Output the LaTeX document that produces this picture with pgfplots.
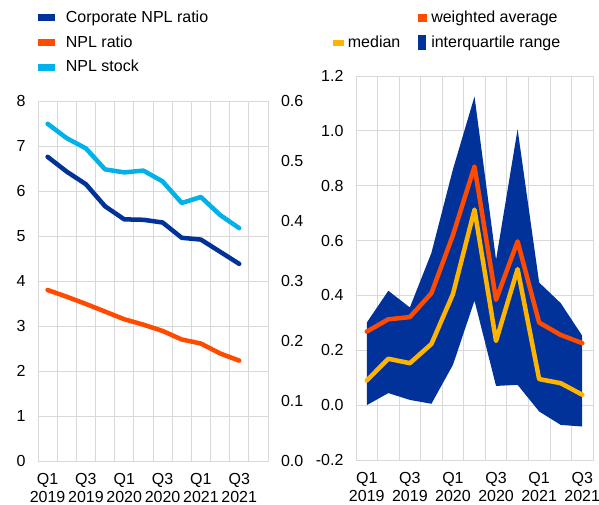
\documentclass[border=0pt]{standalone}
\usepackage{fontspec}
\setmainfont{Liberation Sans}
\usepackage{pgfplots}
\usepackage{pgfplotstable}
\pgfplotsset{compat=1.18}

\definecolor{ecbblue}{HTML}{003299}
\definecolor{ecborange}{HTML}{FF4B00}
\definecolor{ecblight}{HTML}{00B1EA}
\definecolor{ecbyellow}{HTML}{FFB400}
\definecolor{gridgray}{HTML}{D9D9D9}

% left panel: NPL ratios (lhs, %) and NPL stock (rhs, EUR tn)
\pgfplotstableread{
i  corp  ratio  stock
0  6.76  3.80   0.562
1  6.43  3.65   0.538
2  6.15  3.49   0.521
3  5.66  3.32   0.486
4  5.37  3.15   0.481
5  5.36  3.03   0.484
6  5.30  2.89   0.466
7  4.96  2.70   0.430
8  4.92  2.61   0.440
9  4.65  2.39   0.410
10 4.38  2.23   0.388
}\leftdata

% right panel: weighted average and median
\pgfplotstableread{
i  wavg   med
0  0.268  0.090
1  0.313  0.169
2  0.321  0.153
3  0.408  0.223
4  0.620  0.405
5  0.870  0.713
6  0.384  0.234
7  0.597  0.496
8  0.301  0.095
9  0.256  0.080
10 0.226  0.038
}\rightdata

% interquartile range as a closed outline: 25th pct forward, 75th pct back
\pgfplotstableread{
i  q
0  0.000
1  0.044
2  0.019
3  0.005
4  0.147
5  0.381
6  0.070
7  0.074
8  -0.023
9  -0.072
10 -0.078
10 0.253
9  0.372
8  0.447
7  1.006
6  0.530
5  1.125
4  0.860
3  0.555
2  0.356
1  0.417
0  0.301
}\iqrdata

\pgfplotsset{
  ecbbase/.style={
    scale only axis,
    anchor=south west,
    font=\fontsize{16}{18}\selectfont,
    /pgf/number format/assume math mode=true,
    axis line style={gridgray, line width=0.8pt},
    major tick length=0pt, minor tick length=0pt,
    grid style={gridgray, line width=0.8pt},
    ymajorgrids, xminorgrids,
    xtick={0,2,4,6,8,10},
    xticklabels={{Q1\\2019},{Q3\\2019},{Q1\\2020},{Q3\\2020},{Q1\\2021},{Q3\\2021}},
    xticklabel style={align=center, yshift=-8.5pt},
    yticklabel style={xshift=-9pt},
    legend cell align=left,
    legend style={draw=none, fill=none, font=\fontsize{16}{18}\selectfont,
      inner sep=0pt, outer sep=0pt,
      nodes={inner sep=0pt}},
  },
  swatch/.style n args={3}{legend image code/.code={
    \fill[#1] (0pt,-#3) rectangle (#2,#3);}},
}

\begin{document}
\begin{tikzpicture}
\useasboundingbox (0pt,0pt) rectangle (599pt,505pt);

\begin{axis}[ecbbase,
    at={(38pt,44pt)}, width=230pt, height=360pt,
    xmin=-0.5, xmax=11.5, ymin=0, ymax=8,
    ytick={0,1,2,3,4,5,6,7,8},
    minor xtick={-0.5,0.5,...,11.5},
    legend style={at={(axis description cs:0,1)}, anchor=north west, yshift=90pt,
      row sep=11.5pt,
      /tikz/every odd column/.append style={column sep=12pt}}]
\addlegendimage{swatch={ecbblue}{15.5pt}{3pt}}
\addlegendentry{Corporate NPL ratio}
\addlegendimage{swatch={ecborange}{15.5pt}{3pt}}
\addlegendentry{NPL ratio}
\addlegendimage{swatch={ecblight}{15.5pt}{3pt}}
\addlegendentry{NPL stock}
\addplot[ecbblue, line width=4.5pt, line join=round, line cap=round, forget plot] table[x=i, y=corp] {\leftdata};
\addplot[ecborange, line width=4.5pt, line join=round, line cap=round, forget plot] table[x=i, y=ratio] {\leftdata};
\end{axis}

\begin{axis}[ecbbase,
    at={(38pt,44pt)}, width=230pt, height=360pt,
    xmin=-0.5, xmax=11.5, ymin=0, ymax=0.6,
    ymajorgrids=false, xminorgrids=false,
    axis y line*=right, hide x axis,
    ytick={0,0.1,0.2,0.3,0.4,0.5,0.6},
    yticklabel style={xshift=18.5pt, /pgf/number format/.cd, fixed, fixed zerofill, precision=1}]
\addplot[ecblight, line width=4.5pt, line join=round, line cap=round] table[x=i, y=stock] {\leftdata};
\end{axis}

\begin{axis}[ecbbase,
    at={(356pt,45pt)}, width=237pt, height=384pt,
    xmin=-0.5, xmax=10.5, ymin=-0.2, ymax=1.2,
    ytick={-0.2,0,0.2,0.4,0.6,0.8,1.0,1.2},
    minor xtick={-0.5,0.5,...,10.5},
    yticklabel style={/pgf/number format/.cd, fixed, fixed zerofill, precision=1},
    legend columns=2,
    legend style={at={(axis description cs:0,1)}, anchor=north west, xshift=-23pt, yshift=65pt,
      row sep=11pt,
      /tikz/every odd column/.append style={column sep=5pt},
      /tikz/every even column/.append style={column sep=18pt}}]
\addlegendimage{empty legend}
\addlegendentry{}
\addlegendimage{swatch={ecborange}{7.5pt}{3.75pt}}
\addlegendentry{weighted average}
\addlegendimage{swatch={ecbyellow}{9.5pt}{2.5pt}}
\addlegendentry{median}
\addlegendimage{swatch={ecbblue}{7pt}{7pt}}
\addlegendentry{interquartile range}
\addplot[fill=ecbblue, draw=none, forget plot] table[x=i, y=q] {\iqrdata} -- cycle;
\addplot[ecborange, line width=4.5pt, line join=round, line cap=round, forget plot] table[x=i, y=wavg] {\rightdata};
\addplot[ecbyellow, line width=4.5pt, line join=round, line cap=round, forget plot] table[x=i, y=med] {\rightdata};
\end{axis}
\end{tikzpicture}
\end{document}
